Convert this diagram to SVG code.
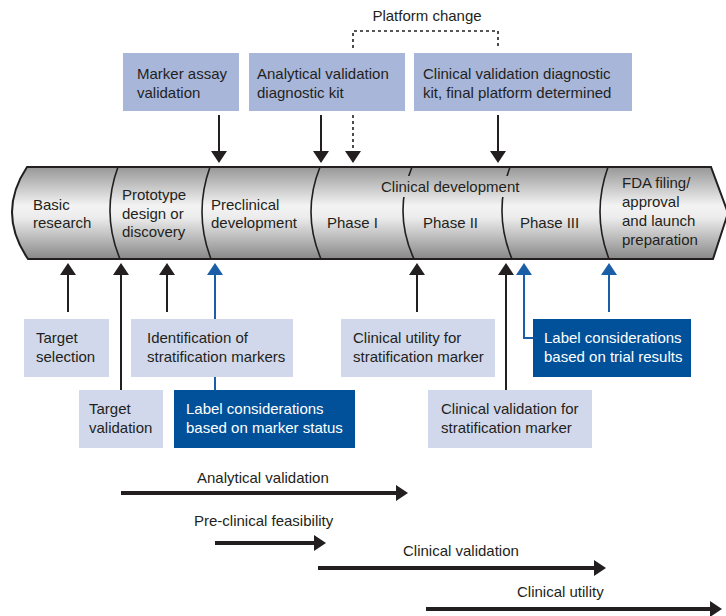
<svg xmlns="http://www.w3.org/2000/svg" width="726" height="616" viewBox="0 0 726 616">
<defs>
  <linearGradient id="band" x1="0" y1="0" x2="0" y2="1">
    <stop offset="0" stop-color="#979797"/>
    <stop offset="0.42" stop-color="#f3f3f3"/>
    <stop offset="0.55" stop-color="#ececec"/>
    <stop offset="1" stop-color="#888888"/>
  </linearGradient>
  <marker id="ah" markerUnits="userSpaceOnUse" markerWidth="12" markerHeight="16" refX="2" refY="8" orient="auto">
    <path d="M0,0 L12,8 L0,16 Z" fill="#231f20"/>
  </marker>
  <marker id="ahb" markerUnits="userSpaceOnUse" markerWidth="12" markerHeight="16" refX="2" refY="8" orient="auto">
    <path d="M0,0 L12,8 L0,16 Z" fill="#1a5ea8"/>
  </marker>
  <mask id="gap" maskUnits="userSpaceOnUse" x="0" y="0" width="726" height="616">
    <rect x="0" y="0" width="726" height="616" fill="#fff"/>
    <rect x="380" y="176" width="150" height="21" fill="#000"/>
  </mask>
  <style>
    text { font-family: "Liberation Sans", Arial, sans-serif; font-size: 15px; fill: #231f20; }
    .w { fill: #ffffff; }
    .top { fill: #a8b6da; }
    .lt { fill: #d1d8eb; }
    .dk { fill: #00519a; }
    .div { fill: none; stroke: #231f20; stroke-width: 1.6; }
    .a { fill: none; stroke: #231f20; stroke-width: 2; }
    .ab { fill: none; stroke: #1a5ea8; stroke-width: 2; }
    .big { fill: none; stroke: #231f20; stroke-width: 4; }
    .dash { fill: none; stroke: #231f20; stroke-width: 1.6; stroke-dasharray: 3 3; }
  </style>
</defs>
<rect width="726" height="616" fill="#ffffff"/>

<g id="band-shape">
  <path d="M27,167 L711,167 L728,213 L713,259 L28,259 Q-3.5,213 27,167 Z" fill="url(#band)" stroke="#231f20" stroke-width="2"/>
  <path class="div" d="M118,167 Q101,213 120,259"/>
  <path class="div" d="M210,167 Q193.5,213 211,259"/>
  <path class="div" d="M320,167 Q301.5,213 321,259"/>
  <path class="div" d="M412,167 Q393,213 414,259" mask="url(#gap)"/>
  <path class="div" d="M510,167 Q493,213 512,259" mask="url(#gap)"/>
  <path class="div" d="M608,167 Q591.5,213 609,259"/>
</g>

<g id="connectors">
  <path class="a" d="M219,115 V153" marker-end="url(#ah)"/>
  <path class="a" d="M321,115 V153" marker-end="url(#ah)"/>
  <path class="dash" d="M353,115 V153" marker-end="url(#ah)"/>
  <path class="a" d="M498,115 V153" marker-end="url(#ah)"/>
  <path class="dash" d="M353,48 V31 H498 V48"/>
  <path class="a" d="M68,312 V273" marker-end="url(#ah)"/>
  <path class="a" d="M121,390 V273" marker-end="url(#ah)"/>
  <path class="a" d="M167,312 V273" marker-end="url(#ah)"/>
  <path class="ab" d="M215,390 V273" marker-end="url(#ahb)"/>
  <path class="a" d="M417,312 V273" marker-end="url(#ah)"/>
  <path class="a" d="M506,390 V273" marker-end="url(#ah)"/>
  <path class="ab" d="M533,338 H524 V273" marker-end="url(#ahb)"/>
  <path class="ab" d="M609,312 V273" marker-end="url(#ahb)"/>
  <path class="big" d="M121,493 H398" marker-end="url(#ah)"/>
  <path class="big" d="M215,543 H316" marker-end="url(#ah)"/>
  <path class="big" d="M318,568 H596" marker-end="url(#ah)"/>
  <path class="big" d="M426,609 H712" marker-end="url(#ah)"/>
</g>

<g id="stage-basic"><text x="33" y="210">Basic</text><text x="33" y="228">research</text></g>
<g id="stage-prototype"><text x="122" y="200">Prototype</text><text x="122" y="218.5">design or</text><text x="122" y="237">discovery</text></g>
<g id="stage-preclinical"><text x="211" y="210">Preclinical</text><text x="211" y="228">development</text></g>
<g id="stage-clinical"><text x="381" y="192">Clinical development</text></g>
<g id="stage-phase1"><text x="327" y="228">Phase I</text></g>
<g id="stage-phase2"><text x="423" y="228">Phase II</text></g>
<g id="stage-phase3"><text x="520" y="228">Phase III</text></g>
<g id="stage-fda"><text x="622" y="188">FDA filing/</text><text x="622" y="207">approval</text><text x="622" y="226">and launch</text><text x="622" y="245">preparation</text></g>

<g id="platform-change"><text x="427" y="21" text-anchor="middle">Platform change</text></g>

<g id="marker-assay">
  <rect class="top" x="123" y="53" width="116" height="58"/>
  <text x="137" y="79">Marker assay</text><text x="137" y="98">validation</text>
</g>
<g id="analytical-kit">
  <rect class="top" x="249" y="53" width="156" height="58"/>
  <text x="257" y="79">Analytical validation</text><text x="257" y="98">diagnostic kit</text>
</g>
<g id="clinical-kit">
  <rect class="top" x="414" y="53" width="218" height="58"/>
  <text x="423" y="79">Clinical validation diagnostic</text><text x="423" y="98">kit, final platform determined</text>
</g>

<g id="target-selection">
  <rect class="lt" x="24" y="319" width="85" height="58"/>
  <text x="36" y="343">Target</text><text x="36" y="362">selection</text>
</g>
<g id="identification">
  <rect class="lt" x="131" y="319" width="162" height="58"/>
  <text x="147" y="343">Identification of</text><text x="147" y="362">stratification markers</text>
</g>
<g id="clinical-utility-marker">
  <rect class="lt" x="341" y="319" width="154" height="58"/>
  <text x="353" y="343">Clinical utility for</text><text x="353" y="362">stratification marker</text>
</g>
<g id="label-trial">
  <rect class="dk" x="533" y="319" width="158" height="58"/>
  <text class="w" x="544" y="343">Label considerations</text><text class="w" x="544" y="362">based on trial results</text>
</g>
<g id="target-validation">
  <rect class="lt" x="79" y="390" width="84" height="58"/>
  <text x="89" y="414">Target</text><text x="89" y="433">validation</text>
</g>
<g id="label-marker">
  <rect class="dk" x="174" y="390" width="181" height="58"/>
  <text class="w" x="186" y="414">Label considerations</text><text class="w" x="186" y="433">based on marker status</text>
</g>
<g id="clinical-validation-marker">
  <rect class="lt" x="428" y="390" width="164" height="58"/>
  <text x="441" y="414">Clinical validation for</text><text x="441" y="433">stratification marker</text>
</g>

<g id="phase-labels">
  <text x="197" y="483">Analytical validation</text>
  <text x="194" y="526">Pre-clinical feasibility</text>
  <text x="403" y="556">Clinical validation</text>
  <text x="517" y="597">Clinical utility</text>
</g>
</svg>
